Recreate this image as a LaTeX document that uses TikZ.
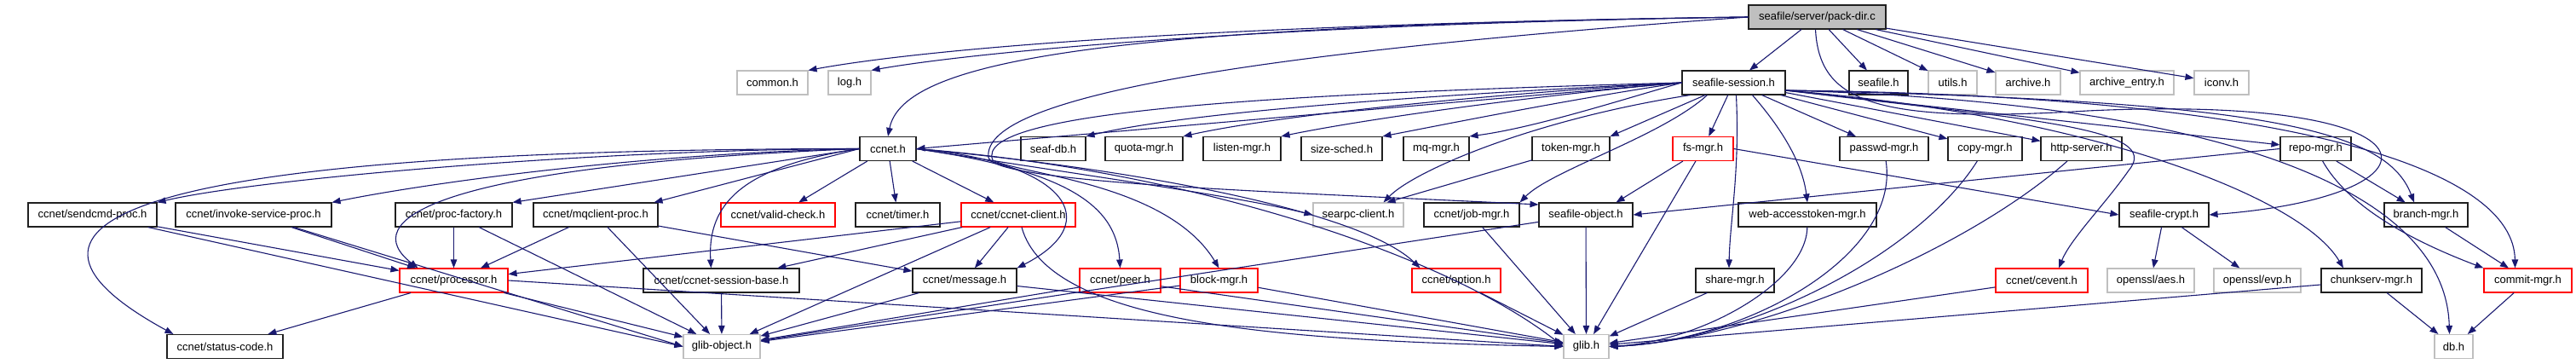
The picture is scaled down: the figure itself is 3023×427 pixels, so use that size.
\documentclass[tikz,border=0pt]{standalone}
\usepackage{fontspec}
\setmainfont{Liberation Sans}
\usetikzlibrary{arrows.meta}
\definecolor{edgec}{HTML}{191970}
\definecolor{grayb}{HTML}{BFBFBF}
\definecolor{boxk}{HTML}{202020}
\newcommand\mybox[6]{\node[#1,minimum width={#4-#3}] (#2) at ({(#3+#4)/2},#5) {#6};}
\begin{document}
\begin{tikzpicture}[x=1pt,y=-1pt,
 box/.style={draw=boxk,line width=1.1,minimum height=28,inner sep=0,font=\fontsize{13}{15}\selectfont},
 rbox/.style={box,draw=red},
 gbox/.style={box,draw=grayb},
 dep/.style={draw=edgec,line width=1.1,-{Triangle[length=10,width=7.5]}}]
\useasboundingbox (0,0) rectangle (3023,427);
% row 1
\mybox{box,fill=grayb}{P}{2052}{2213}{20}{seafile/server/pack-dir.c}
% row 2
\mybox{gbox}{common}{865}{948}{97}{common.h}
\mybox{gbox}{log}{972}{1022}{97}{log.h}
\mybox{box}{S}{1974}{2095}{97}{seafile-session.h}
\mybox{box}{seafile}{2170}{2239}{97}{seafile.h}
\mybox{gbox}{utils}{2263}{2320}{97}{utils.h}
\mybox{gbox}{archive}{2342}{2418}{97}{archive.h}
\mybox{gbox}{archent}{2441}{2551}{97}{archive\_entry.h}
\mybox{gbox}{iconv}{2575}{2639}{97}{iconv.h}
% row 3
\mybox{box}{ccnet}{1009}{1075}{174.5}{ccnet.h}
\mybox{box}{seafdb}{1198}{1274}{174.5}{seaf-db.h}
\mybox{box}{quota}{1297}{1388}{174.5}{quota-mgr.h}
\mybox{box}{listen}{1412}{1503}{174.5}{listen-mgr.h}
\mybox{box}{sizes}{1527}{1622}{174.5}{size-sched.h}
\mybox{box}{mq}{1647}{1724}{174.5}{mq-mgr.h}
\mybox{box}{token}{1798}{1889}{174.5}{token-mgr.h}
\mybox{rbox}{fs}{1963}{2034}{174.5}{fs-mgr.h}
\mybox{box}{passwd}{2159}{2263}{174.5}{passwd-mgr.h}
\mybox{box}{copy}{2286}{2373}{174.5}{copy-mgr.h}
\mybox{box}{http}{2395}{2490}{174.5}{http-server.h}
\mybox{box}{repo}{2676}{2759}{174.5}{repo-mgr.h}
% row 4
\mybox{box}{sendcmd}{33}{184}{252}{ccnet/sendcmd-proc.h}
\mybox{box}{invoke}{206}{389}{252}{ccnet/invoke-service-proc.h}
\mybox{box}{pfac}{464}{601}{252}{ccnet/proc-factory.h}
\mybox{box}{mqc}{626}{772}{252}{ccnet/mqclient-proc.h}
\mybox{rbox}{valid}{846}{980}{252}{ccnet/valid-check.h}
\mybox{box}{timer}{1004}{1103}{252}{ccnet/timer.h}
\mybox{rbox}{client}{1128}{1262}{252}{ccnet/ccnet-client.h}
\mybox{gbox}{searpc}{1541}{1647}{252}{searpc-client.h}
\mybox{box}{job}{1671}{1783}{252}{ccnet/job-mgr.h}
\mybox{box}{sobj}{1806}{1916}{252}{seafile-object.h}
\mybox{box}{web}{2040}{2202}{252}{web-accesstoken-mgr.h}
\mybox{box}{crypt}{2487}{2592}{252}{seafile-crypt.h}
\mybox{box}{branch}{2798}{2896}{252}{branch-mgr.h}
% row 5
\mybox{rbox}{proc}{469}{596}{329}{ccnet/processor.h}
\mybox{box}{sb}{755}{938}{329}{ccnet/ccnet-session-base.h}
\mybox{box}{msg}{1071}{1193}{329}{ccnet/message.h}
\mybox{rbox}{peer}{1267}{1362}{329}{ccnet/peer.h}
\mybox{rbox}{block}{1385}{1476}{329}{block-mgr.h}
\mybox{rbox}{option}{1657}{1761}{329}{ccnet/option.h}
\mybox{box}{share}{1990}{2082}{329}{share-mgr.h}
\mybox{rbox}{cevent}{2342}{2450}{329}{ccnet/cevent.h}
\mybox{gbox}{aes}{2473}{2575}{329}{openssl/aes.h}
\mybox{gbox}{evp}{2598}{2700}{329}{openssl/evp.h}
\mybox{box}{chunk}{2724}{2842}{329}{chunkserv-mgr.h}
\mybox{rbox}{commit}{2915}{3018}{329}{commit-mgr.h}
% row 6
\mybox{box}{status}{196}{332}{406.5}{ccnet/status-code.h}
\mybox{gbox}{glibobj}{802}{892}{406.5}{glib-object.h}
\mybox{gbox}{glib}{1835}{1888}{406.5}{glib.h}
\mybox{gbox}{db}{2857}{2902}{406.5}{db.h}

\coordinate (Sse) at (2095,106);
% ---- pack-dir.c
\draw[dep] (P.west) .. controls (1450,28) and (1100,55) .. (common.north east);
\draw[dep] (P.west) .. controls (1500,28) and (1150,60) .. (log.north east);
\draw[dep] (P.west) .. controls (1300,30) and (1060,70) .. (ccnet.north);
\draw[dep] (P.west) .. controls (1500,60) and (1150,110) .. (1160,185) .. controls (1170,215) and (1500,225) .. ([yshift=12]sobj.west);
\draw[dep] ([xshift=-2]P.south) .. controls (2135,120) and (2200,145) .. (2450,130) .. controls (2880,110) and (2880,230) .. (crypt.east);
\draw[dep] (P) -- (S);
\draw[dep] (P) -- (seafile);
\draw[dep] (P) -- (utils);
\draw[dep] (P) -- (archive);
\draw[dep] (P) -- (archent);
\draw[dep] (P) -- (iconv);
% ---- seafile-session.h
\draw[dep] (S.west) -- (ccnet.east);
\draw[dep] (S.west) .. controls (1700,110) and (1400,130) .. (seafdb.north east);
\draw[dep] (S.west) .. controls (1750,110) and (1500,135) .. (quota.north east);
\draw[dep] (S.west) .. controls (1800,112) and (1600,140) .. (listen.north east);
\draw[dep] (S.west) .. controls (1850,115) and (1700,145) .. (sizes.north east);
\draw[dep] (S.west) .. controls (1900,118) and (1800,150) .. (mq.north east);
\draw[dep] (S) -- (token.north east);
\draw[dep] (S) -- (fs);
\draw[dep] (S) -- (passwd);
\draw[dep] (S) -- (copy);
\draw[dep] (S) -- (http);
\draw[dep] (Sse) -- (repo);
\draw[dep] ([xshift=10]S.south west) .. controls (1800,140) and (1660,200) .. ([xshift=-24]searpc.north east);
\draw[dep] ([xshift=30]S.south west) .. controls (1950,160) and (1820,200) .. (job.north east);
\draw[dep] (S.west) .. controls (1500,110) and (1140,130) .. (1165,188) .. controls (1200,205) and (1370,215) .. (block.north);
\draw[dep] ([xshift=64]S.south west) .. controls (2042,200) and (2030,260) .. ([xshift=-7]share.north);
\draw[dep] ([xshift=83]S.south west) .. controls (2090,150) and (2115,190) .. (web.north);
\draw[dep] (Sse) .. controls (2380,140) and (2540,150) .. (2498,200) .. controls (2470,240) and (2430,280) .. ([xshift=20]cevent.north);
\draw[dep] (Sse) .. controls (2450,135) and (2700,230) .. ([xshift=-33]chunk.north);
\draw[dep] (Sse) .. controls (2600,120) and (2870,220) .. ([xshift=-5]db.north);
\draw[dep] (Sse) .. controls (2700,112) and (2950,200) .. ([xshift=-15]commit.north);
\draw[dep] (Sse) .. controls (2650,118) and (2800,150) .. ([xshift=-14]branch.north);
% ---- ccnet.h
\draw[dep] (ccnet.west) .. controls (700,175) and (300,210) .. (sendcmd.north east);
\draw[dep] (ccnet.west) .. controls (750,180) and (500,215) .. (invoke.north east);
\draw[dep] (ccnet.west) -- (pfac.north east);
\draw[dep] (ccnet.west) -- ([xshift=-5]mqc.north east);
\draw[dep] (ccnet) -- (valid);
\draw[dep] (ccnet) -- (timer);
\draw[dep] (ccnet) -- (client);
\draw[dep] (ccnet.west) .. controls (100,175) and (-20,270) .. ([xshift=8]status.north west);
\draw[dep] (ccnet.west) .. controls (500,195) and (420,260) .. ([xshift=22]proc.north west);
\draw[dep] (ccnet.west) .. controls (870,195) and (830,240) .. ([xshift=80]sb.north west);
\draw[dep] (ccnet.east) .. controls (1250,190) and (1300,260) .. (msg.north east);
\draw[dep] (ccnet.east) .. controls (1250,200) and (1310,240) .. (peer.north);
\draw[dep] (ccnet.east) .. controls (1300,210) and (1450,230) .. (searpc.west);
\draw[dep] (ccnet.east) .. controls (1350,200) and (1600,250) .. ([xshift=10]option.north west);
\draw[dep] (ccnet.east) .. controls (1400,200) and (1700,300) .. (glib.west);
% ---- row 4
\draw[dep] (sendcmd) -- (proc);
\draw[dep] (sendcmd) -- (glibobj.west);
\draw[dep] (invoke) -- (proc);
\draw[dep] (invoke) -- (glibobj.west);
\draw[dep] (pfac) -- (proc);
\draw[dep] (pfac) -- (glibobj);
\draw[dep] (mqc) -- (proc);
\draw[dep] (mqc) -- (glibobj);
\draw[dep] (mqc) -- (msg);
\draw[dep] (client) -- (proc);
\draw[dep] (client) -- (sb);
\draw[dep] (client) -- (msg);
\draw[dep] (client) -- (glibobj);
\draw[dep] (client) .. controls (1230,380) and (1500,400) .. (glib.west);
\draw[dep] (token) -- ([xshift=-20]searpc.north east);
\draw[dep] (job) -- (glib);
\draw[dep] (sobj) -- (glib);
\draw[dep] (sobj) -- (glibobj);
\draw[dep] (fs) -- ([xshift=-20]sobj.north east);
\draw[dep] (fs) -- (glib);
\draw[dep] (fs.east) -- (crypt.west);
\draw[dep] (repo.west) -- (sobj.east);
\draw[dep] (repo) -- (branch);
\draw[dep] (repo) .. controls (2760,250) and (2850,290) .. (commit.north west);
\draw[dep] (web) .. controls (2120,330) and (2000,400) .. (glib.east);
\draw[dep] (passwd) .. controls (2230,300) and (2050,400) .. (glib.east);
\draw[dep] (copy) .. controls (2250,300) and (2050,400) .. (glib.east);
\draw[dep] (http) .. controls (2300,300) and (2050,400) .. (glib.east);
\draw[dep] (crypt) -- (aes);
\draw[dep] (crypt) -- (evp);
\draw[dep] (branch) -- (commit);
% ---- row 5
\draw[dep] (proc) -- (status);
\draw[dep] (proc) -- (glibobj);
\draw[dep] (proc.east) -- (glib.west);
\draw[dep] (sb) -- (glibobj);
\draw[dep] (msg) -- (glibobj);
\draw[dep] (msg) -- (glib);
\draw[dep] (peer) -- (glibobj);
\draw[dep] (peer) -- (glib);
\draw[dep] (block) -- (glibobj);
\draw[dep] (block) -- (glib);
\draw[dep] (option) -- (glib);
\draw[dep] (share) -- (glib);
\draw[dep] (cevent) -- (glib);
\draw[dep] (chunk) -- (glib);
\draw[dep] (chunk) -- (db);
\draw[dep] (commit) -- (db);
\end{tikzpicture}
\end{document}
